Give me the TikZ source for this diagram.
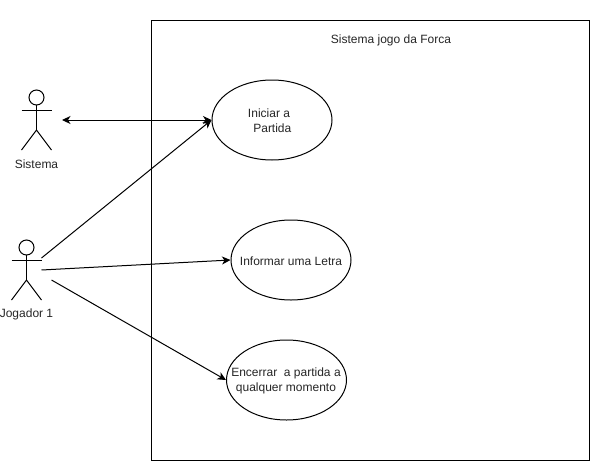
\documentclass[tikz,border=0pt]{standalone}
\usepackage{fontspec}
\setmainfont{Liberation Sans}
\usepackage{xcolor}
\usetikzlibrary{shapes.geometric,arrows.meta}

\begin{document}
\begin{tikzpicture}[x=1pt,y=-1pt,>={Stealth[length=8.5pt,width=8pt,inset=2.5pt]},line width=1pt,
    usecase/.style={draw,ellipse,minimum width=120pt,minimum height=80pt,inner sep=0pt},
    actor/.style={minimum width=30pt,minimum height=60pt,inner sep=0pt},
    caption/.style={inner sep=0pt,align=center,text=black!85,font=\fontsize{12}{14.6}\selectfont}]
  \useasboundingbox (0,0) rectangle (592,461);
  \fill[white] (0,0) rectangle (592,461);
  \draw (151.5,20.5) rectangle (589.5,460);
  \node[caption] (titulo) at (391,40.8) {Sistema jogo da Forca};

  \node[usecase] (iniciar) at (272,120) {};
  \node[usecase] (informar) at (291,260) {};
  \node[usecase] (encerrar) at (286.5,380) {};
  \node[caption] (iniciarlabel) at (269,120.8) {Iniciar a\\\ \ Partida};
  \node[caption] (informarlabel) at (291,260.8) {Informar uma Letra};
  \node[caption] (encerrarlabel) at (286,380.8) {Encerrar\ \ a partida a\\qualquer momento};

  \node[actor] (sistema) at (36.5,120) {};
  \node[caption] (sistemalabel) at (36.5,163.8) {Sistema};
  \draw (36.5,97.5) circle (7.5);
  \draw (36.5,105)--(36.5,130) (21.5,110)--(51.5,110);
  \draw (21.5,150)--(36.5,130)--(51.5,150);

  \node[actor] (jogador) at (26.5,270) {};
  \node[caption] (jogadorlabel) at (26.5,314.8) {Jogador 1};
  \draw (26.5,247.5) circle (7.5);
  \draw (26.5,255)--(26.5,280) (11.5,260)--(41.5,260);
  \draw (11.5,300)--(26.5,280)--(41.5,300);

  \coordinate (sistemaend) at (62,120);
  \coordinate (jogadora) at (41.5,258);
  \coordinate (jogadorb) at (41.5,270);
  \coordinate (jogadorc) at (51.5,280);
  \draw[<->] (sistemaend)--(iniciar.west);
  \draw[->] (jogadora)--(iniciar.west);
  \draw[->] (jogadorb)--(informar.west);
  \draw[->] (jogadorc)--(encerrar.west);
\end{tikzpicture}
\end{document}
